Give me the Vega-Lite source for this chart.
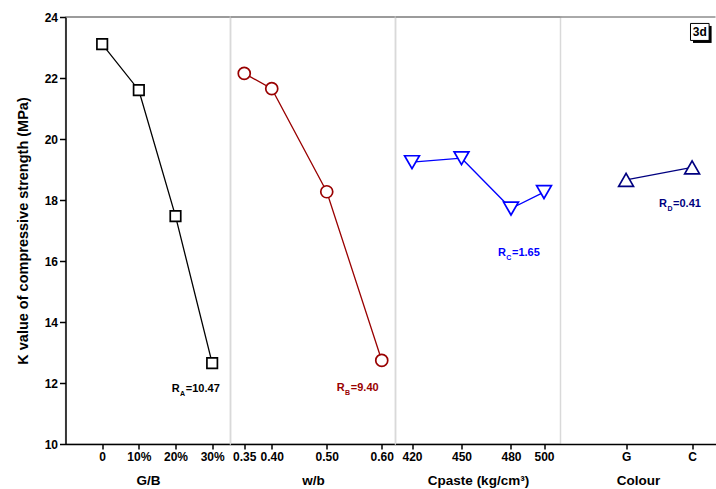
{
  "$schema": "https://vega.github.io/schema/vega-lite/v6.json",
  "padding": {"left": 13.5, "top": 10, "right": 0, "bottom": 0},
  "background": "white",
  "config": {
    "font": "Liberation Sans",
    "axis": {
      "labelFont": "Liberation Sans", "labelFontWeight": "bold", "labelFontSize": 12, "labelColor": "black",
      "titleFont": "Liberation Sans", "titleFontWeight": "bold", "titleFontSize": 13.5, "titleColor": "black",
      "domainColor": "black", "domainWidth": 1.5, "tickColor": "black", "tickWidth": 1.5, "tickSize": 5,
      "labelPadding": 2, "titlePadding": 11, "labelOverlap": false, "grid": false
    },
    "view": {"stroke": "#d9d9d9", "strokeWidth": 1.5}
  },
  "datasets": {
    "ga": [{"level": 0, "k": 23.11}, {"level": 10, "k": 21.6}, {"level": 20, "k": 17.47}, {"level": 30, "k": 12.65}],
    "wb": [{"level": 0.35, "k": 22.15}, {"level": 0.4, "k": 21.65}, {"level": 0.5, "k": 18.27}, {"level": 0.6, "k": 12.74}],
    "cp": [{"level": 420, "k": 19.24}, {"level": 450, "k": 19.37}, {"level": 480, "k": 17.72}, {"level": 500, "k": 18.26}],
    "col": [{"level": "G", "k": 18.66}, {"level": "C", "k": 19.07}]
  },
  "spacing": 0,
  "bounds": "flush",
  "resolve": {"scale": {"x": "independent", "y": "independent"}},
  "hconcat": [
    {
      "width": 165, "height": 427,
      "layer": [
        {"data": {"name": "ga"}, "mark": {"type": "line", "color": "black", "strokeWidth": 1.3},
         "encoding": {
           "x": {"field": "level", "type": "quantitative", "scale": {"domain": [-10, 35], "nice": false, "zero": false},
                 "axis": {"title": "G/B", "values": [0, 10, 20, 30], "labelOverlap": false, "labelFlush": false, "labelExpr": "datum.value == 0 ? '0' : datum.value + '%'"}},
           "y": {"field": "k", "type": "quantitative", "scale": {"domain": [10, 24], "nice": false, "zero": false},
                 "axis": {"title": "K value of compressive strength (MPa)", "values": [10, 12, 14, 16, 18, 20, 22, 24], "labelOverlap": false, "tickSize": 6, "titlePadding": 14, "titleFontSize": 14.5}}
         }},
        {"data": {"name": "ga"}, "mark": {"type": "point", "shape": "square", "size": 110, "filled": true, "fill": "white", "stroke": "black", "strokeWidth": 1.7, "opacity": 1},
         "encoding": {"x": {"field": "level", "type": "quantitative"}, "y": {"field": "k", "type": "quantitative"}}},
        {"data": {"values": [{}]}, "mark": {"type": "rule", "color": "#555555", "strokeWidth": 1}, "encoding": {"y": {"datum": 24}}},
        {"data": {"values": [{"level": 18.99, "k": 11.81, "sub": "A", "val": "=10.47"}]},
         "encoding": {"x": {"field": "level", "type": "quantitative"}, "y": {"field": "k", "type": "quantitative"}},
         "layer": [
           {"mark": {"type": "text", "align": "left", "baseline": "middle", "fontSize": 11, "fontWeight": "bold", "color": "black"}, "encoding": {"text": {"value": "R"}}},
           {"mark": {"type": "text", "align": "left", "baseline": "middle", "fontSize": 7, "fontWeight": "bold", "color": "black", "dx": 8.3, "dy": 5}, "encoding": {"text": {"field": "sub"}}},
           {"mark": {"type": "text", "align": "left", "baseline": "middle", "fontSize": 11, "fontWeight": "bold", "color": "black", "dx": 14}, "encoding": {"text": {"field": "val"}}}
         ]}
      ]
    },
    {
      "width": 165, "height": 427,
      "layer": [
        {"data": {"name": "wb"}, "mark": {"type": "line", "color": "#990000", "strokeWidth": 1.3},
         "encoding": {
           "x": {"field": "level", "type": "quantitative", "scale": {"domain": [0.325, 0.625], "nice": false, "zero": false},
                 "axis": {"title": "w/b", "values": [0.35, 0.4, 0.5, 0.6], "format": ".2f", "labelOverlap": false, "labelFlush": false}},
           "y": {"field": "k", "type": "quantitative", "scale": {"domain": [10, 24], "nice": false, "zero": false}, "axis": null}
         }},
        {"data": {"name": "wb"}, "mark": {"type": "point", "shape": "circle", "size": 144, "filled": true, "fill": "white", "stroke": "#990000", "strokeWidth": 1.7, "opacity": 1},
         "encoding": {"x": {"field": "level", "type": "quantitative"}, "y": {"field": "k", "type": "quantitative"}}},
        {"data": {"values": [{}]}, "mark": {"type": "rule", "color": "#555555", "strokeWidth": 1}, "encoding": {"y": {"datum": 24}}},
        {"data": {"values": [{"level": 0.5183, "k": 11.85, "sub": "B", "val": "=9.40"}]},
         "encoding": {"x": {"field": "level", "type": "quantitative"}, "y": {"field": "k", "type": "quantitative"}},
         "layer": [
           {"mark": {"type": "text", "align": "left", "baseline": "middle", "fontSize": 11, "fontWeight": "bold", "color": "#990000"}, "encoding": {"text": {"value": "R"}}},
           {"mark": {"type": "text", "align": "left", "baseline": "middle", "fontSize": 7, "fontWeight": "bold", "color": "#990000", "dx": 8.3, "dy": 5}, "encoding": {"text": {"field": "sub"}}},
           {"mark": {"type": "text", "align": "left", "baseline": "middle", "fontSize": 11, "fontWeight": "bold", "color": "#990000", "dx": 14}, "encoding": {"text": {"field": "val"}}}
         ]}
      ]
    },
    {
      "width": 165, "height": 427,
      "layer": [
        {"data": {"name": "cp"}, "mark": {"type": "line", "color": "#0000ff", "strokeWidth": 1.3},
         "encoding": {
           "x": {"field": "level", "type": "quantitative", "scale": {"domain": [410, 510], "nice": false, "zero": false},
                 "axis": {"title": "Cpaste (kg/cm³)", "values": [420, 450, 480, 500], "format": "d", "labelOverlap": false, "labelFlush": false}},
           "y": {"field": "k", "type": "quantitative", "scale": {"domain": [10, 24], "nice": false, "zero": false}, "axis": null}
         }},
        {"data": {"name": "cp"}, "mark": {"type": "point", "shape": "triangle-down", "size": 220, "filled": true, "fill": "white", "stroke": "#0000ff", "strokeWidth": 1.7, "opacity": 1},
         "encoding": {"x": {"field": "level", "type": "quantitative"}, "y": {"field": "k", "type": "quantitative"}}},
        {"data": {"values": [{}]}, "mark": {"type": "rule", "color": "#555555", "strokeWidth": 1}, "encoding": {"y": {"datum": 24}}},
        {"data": {"values": [{"level": 472.1, "k": 16.25, "sub": "C", "val": "=1.65"}]},
         "encoding": {"x": {"field": "level", "type": "quantitative"}, "y": {"field": "k", "type": "quantitative"}},
         "layer": [
           {"mark": {"type": "text", "align": "left", "baseline": "middle", "fontSize": 11, "fontWeight": "bold", "color": "#0000ff"}, "encoding": {"text": {"value": "R"}}},
           {"mark": {"type": "text", "align": "left", "baseline": "middle", "fontSize": 7, "fontWeight": "bold", "color": "#0000ff", "dx": 8.3, "dy": 5}, "encoding": {"text": {"field": "sub"}}},
           {"mark": {"type": "text", "align": "left", "baseline": "middle", "fontSize": 11, "fontWeight": "bold", "color": "#0000ff", "dx": 14}, "encoding": {"text": {"field": "val"}}}
         ]}
      ]
    },
    {
      "width": 155, "height": 427,
      "view": {"stroke": null},
      "layer": [
        {"data": {"name": "col"}, "mark": {"type": "line", "color": "#000080", "strokeWidth": 1.3},
         "encoding": {
           "x": {"field": "level", "type": "nominal", "sort": null, "scale": {"type": "point", "domain": ["G", "C"], "padding": 0.674, "align": 0.737},
                 "axis": {"title": "Colour", "labelAngle": 0}},
           "y": {"field": "k", "type": "quantitative", "scale": {"domain": [10, 24], "nice": false, "zero": false}, "axis": null}
         }},
        {"data": {"name": "col"}, "mark": {"type": "point", "shape": "triangle-up", "size": 220, "filled": true, "fill": "white", "stroke": "#000080", "strokeWidth": 1.7, "opacity": 1},
         "encoding": {"x": {"field": "level", "type": "nominal", "sort": null}, "y": {"field": "k", "type": "quantitative"}}},
        {"data": {"values": [{}]}, "mark": {"type": "rule", "color": "#555555", "strokeWidth": 1}, "encoding": {"y": {"datum": 24}}},
        {"data": {"values": [{"level": "G", "k": 17.86, "sub": "D", "val": "=0.41"}]},
         "encoding": {"x": {"field": "level", "type": "nominal", "sort": null}, "y": {"field": "k", "type": "quantitative"}},
         "layer": [
           {"mark": {"type": "text", "align": "left", "baseline": "middle", "fontSize": 11, "fontWeight": "bold", "color": "#000080", "dx": 33}, "encoding": {"text": {"value": "R"}}},
           {"mark": {"type": "text", "align": "left", "baseline": "middle", "fontSize": 7, "fontWeight": "bold", "color": "#000080", "dx": 41.3, "dy": 5}, "encoding": {"text": {"field": "sub"}}},
           {"mark": {"type": "text", "align": "left", "baseline": "middle", "fontSize": 11, "fontWeight": "bold", "color": "#000080", "dx": 47}, "encoding": {"text": {"field": "val"}}}
         ]},
        {"data": {"values": [{"level": "C", "k": 23.51, "tag": "3d"}]},
         "encoding": {"x": {"field": "level", "type": "nominal", "sort": null}, "y": {"field": "k", "type": "quantitative"}},
         "layer": [
           {"mark": {"type": "point", "shape": "M0.09,-0.6H1.95V1.1H0.09Z", "size": 400, "filled": true, "fill": "black", "strokeWidth": 0, "opacity": 1}},
           {"mark": {"type": "point", "shape": "M-0.16,-0.85H1.7V0.85H-0.16Z", "size": 400, "filled": true, "fill": "white", "stroke": "black", "strokeWidth": 1, "opacity": 1}},
           {"mark": {"type": "text", "align": "center", "baseline": "middle", "fontSize": 12, "fontWeight": "bold", "color": "black", "dx": 7.7, "dy": 0.5}, "encoding": {"text": {"field": "tag"}}}
         ]}
      ]
    }
  ]
}
